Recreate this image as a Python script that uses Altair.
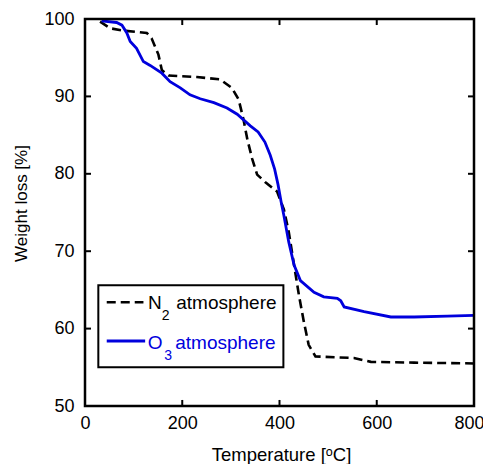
import altair as alt
import pandas as pd

# N2 atmosphere (dashed black)
n2_T = [31, 52, 79, 127, 137, 151, 158, 172, 230, 278, 302, 316, 326, 334, 344, 354, 371, 395,
        409, 419, 430, 440, 450, 460, 474, 553, 588, 677, 800]
n2_W = [99.65, 98.8, 98.5, 98.2, 97.5, 95.4, 93.4, 92.7, 92.5, 92.2, 91.1, 89.6, 87.0, 84.4, 81.9,
        79.9, 78.9, 77.7, 75.4, 72.5, 68.2, 64.3, 60.9, 57.9, 56.4, 56.2, 55.7, 55.6, 55.5]

# O3 atmosphere (solid blue)
o3_T = [34, 65, 76, 86, 93, 106, 120, 134, 158, 175, 196, 216, 237, 265, 292, 313, 340, 356, 370,
        381, 390, 397, 403, 409, 419, 430, 443, 471, 491, 519, 526, 533, 574, 629, 677, 745, 800]
o3_W = [99.75, 99.55, 99.2, 98.2, 97.1, 96.2, 94.5, 94.0, 93.0, 91.9, 91.1, 90.2, 89.7, 89.2, 88.5,
        87.7, 86.2, 85.4, 84.1, 82.4, 80.6, 78.6, 76.5, 74.6, 71.2, 68.2, 66.2, 64.7, 64.1, 63.9,
        63.6, 62.8, 62.2, 61.5, 61.5, 61.6, 61.7]

x_ticks = [0, 200, 400, 600, 800]
y_ticks = [50, 60, 70, 80, 90, 100]

FONT = "Liberation Sans"
XDOM = [0, 800]
YDOM = [50, 100]

xs = alt.Scale(domain=XDOM, nice=False, zero=False)
ys = alt.Scale(domain=YDOM, nice=False, zero=False)

n2 = pd.DataFrame({"T": n2_T, "W": n2_W})
o3 = pd.DataFrame({"T": o3_T, "W": o3_W})

xaxis = alt.Axis(values=x_ticks, labelFontSize=18, labelFont=FONT, labelColor="black",
                 labelPadding=8, labelFlush=False, ticks=False, domain=False, grid=False,
                 labelAlign={"condition": {"test": "datum.value == 800", "value": "right"},
                             "value": "center"},
                 labelOffset={"condition": {"test": "datum.value == 800", "value": 10},
                              "value": 0},
                 title="Temperature [ᵒC]", titleFont=FONT, titleFontSize=18.5,
                 titleFontWeight="normal", titleColor="black",
                 titleBaseline="alphabetic", titleY=54, titleX=196, titleAlign="center")
yaxis = alt.Axis(values=y_ticks, labelFontSize=18, labelFont=FONT, labelColor="black",
                 labelPadding=11, labelFlush=False, ticks=False, domain=False, grid=False,
                 title="Weight loss [%]", titleFont=FONT, titleFontSize=17,
                 titleFontWeight="normal", titleColor="black",
                 titleBaseline="bottom", titleX=-55, titleY=184, titleAlign="center", titleAngle=270)

line_n2 = alt.Chart(n2).mark_line(color="black", strokeWidth=2.6, strokeDash=[9, 5]).encode(
    x=alt.X("T:Q", scale=xs, axis=xaxis),
    y=alt.Y("W:Q", scale=ys, axis=yaxis),
)
line_o3 = alt.Chart(o3).mark_line(color="#0000dd", strokeWidth=2.8).encode(
    x=alt.X("T:Q", scale=xs),
    y=alt.Y("W:Q", scale=ys),
)

# frame around the plot area
frame = alt.Chart(pd.DataFrame({"x": [XDOM[0]], "x2": [XDOM[1]], "y": [YDOM[0]], "y2": [YDOM[1]]})).mark_rect(
    fillOpacity=0, stroke="black", strokeWidth=2.5
).encode(x=alt.X("x:Q", scale=xs), x2="x2:Q", y=alt.Y("y:Q", scale=ys), y2="y2:Q")

# inward ticks (in data units)
tx = 12.3   # length along temperature
ty = 0.78   # length along weight
inner_x = [v for v in x_ticks[1:-1]]
inner_y = [v for v in y_ticks[1:-1]]
tick_rows = []
for v in inner_x:
    tick_rows.append({"x": v, "x2": v, "y": 50, "y2": 50 + ty})
    tick_rows.append({"x": v, "x2": v, "y": 100, "y2": 100 - ty})
for v in inner_y:
    tick_rows.append({"x": 0, "x2": tx, "y": v, "y2": v})
    tick_rows.append({"x": 800, "x2": 800 - tx, "y": v, "y2": v})
ticks = alt.Chart(pd.DataFrame(tick_rows)).mark_rule(color="black", strokeWidth=2).encode(
    x=alt.X("x:Q", scale=xs), x2="x2:Q", y=alt.Y("y:Q", scale=ys), y2="y2:Q"
)

# legend (positioned in data space)
box = alt.Chart(pd.DataFrame({"x": [27.4], "x2": [408], "y": [65.6], "y2": [55.0]})).mark_rect(
    fill="white", stroke="black", strokeWidth=2
).encode(x=alt.X("x:Q", scale=xs), x2="x2:Q", y=alt.Y("y:Q", scale=ys), y2="y2:Q")

leg_n2 = alt.Chart(pd.DataFrame({"x": [44.7], "x2": [120.2], "y": [63.4]})).mark_rule(
    color="black", strokeWidth=2.6, strokeDash=[9, 5]
).encode(x=alt.X("x:Q", scale=xs), x2="x2:Q", y=alt.Y("y:Q", scale=ys))
leg_o3 = alt.Chart(pd.DataFrame({"x": [44.7], "x2": [123.7], "y": [58.4]})).mark_rule(
    color="#0000dd", strokeWidth=2.8
).encode(x=alt.X("x:Q", scale=xs), x2="x2:Q", y=alt.Y("y:Q", scale=ys))

leg_text = pd.DataFrame({
    "x": [129.5, 158.0, 187.6, 129.0, 162.9, 185.6],
    "y": [62.5, 61.1, 62.5, 57.3, 55.95, 57.3],
    "t": ["N", "2", "atmosphere", "O", "3", "atmosphere"],
    "s": [19, 14, 19, 19, 14, 19],
    "c": ["black", "black", "black", "#0000dd", "#0000dd", "#0000dd"],
})
texts = alt.Chart(leg_text).mark_text(align="left", baseline="alphabetic", font=FONT).encode(
    x=alt.X("x:Q", scale=xs), y=alt.Y("y:Q", scale=ys), text="t:N",
    size=alt.Size("s:Q", scale=None, legend=None),
    color=alt.Color("c:N", scale=None, legend=None),
)

chart = alt.layer(line_n2, line_o3, frame, ticks, box, leg_n2, leg_o3, texts).properties(
    width=389, height=387,
    autosize=alt.AutoSizeParams(type="none"),
    padding={"left": 77, "top": 11, "right": 9, "bottom": 58},
).configure_view(strokeWidth=0).configure(background="white")

chart.save("out.html", embed_options={"renderer": "svg", "actions": False})
